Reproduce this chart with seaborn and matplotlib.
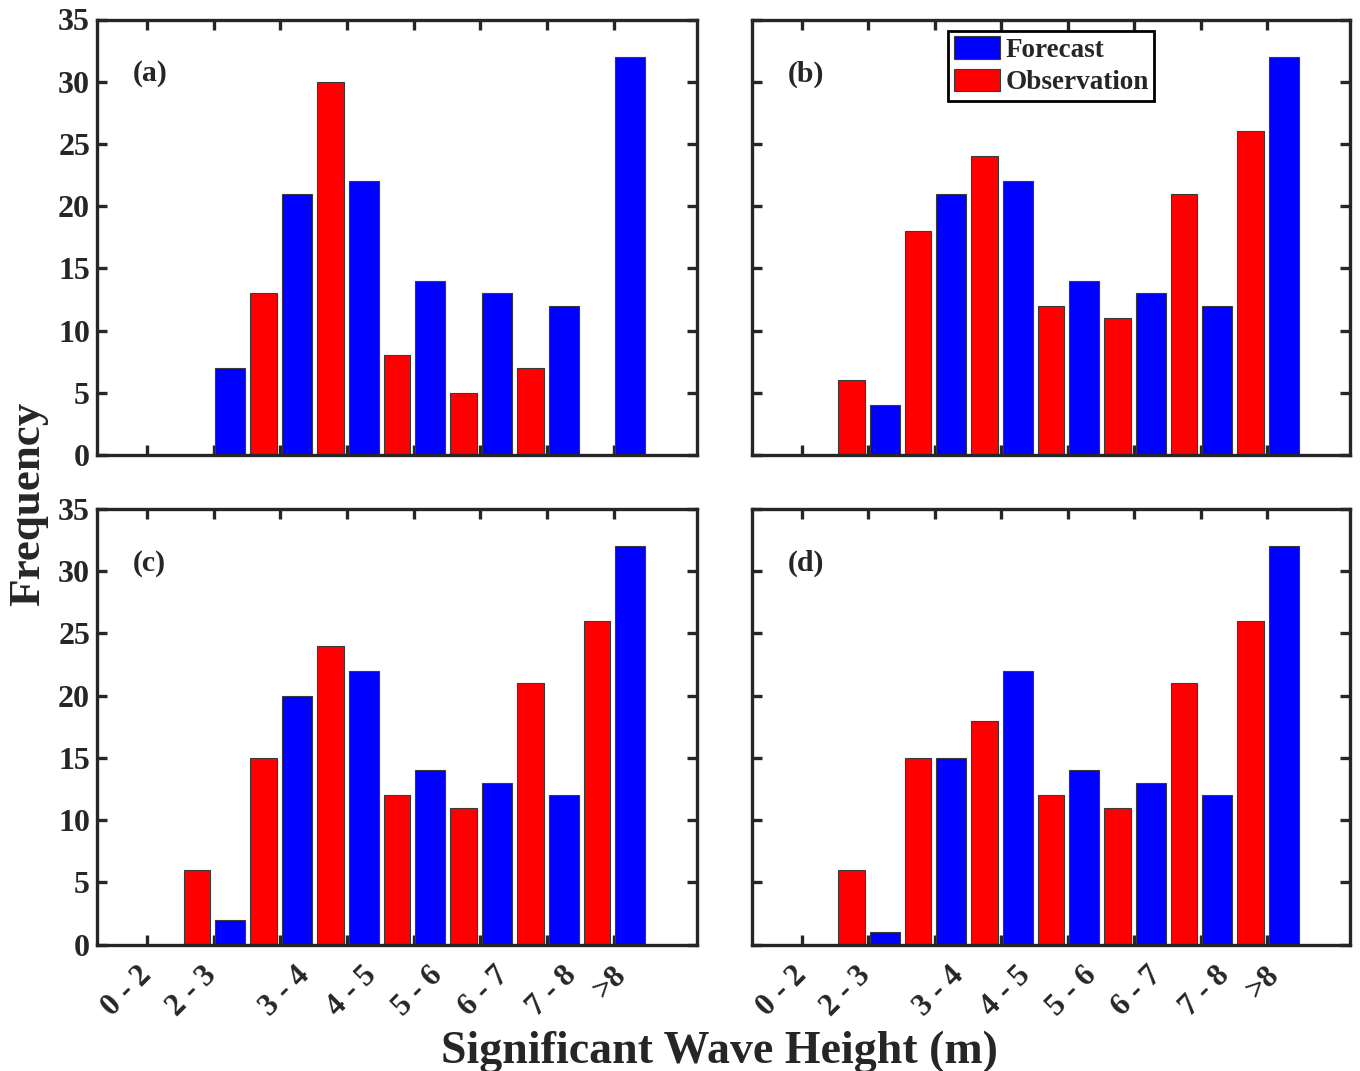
import numpy as np
import pandas as pd
import matplotlib
matplotlib.use("Agg")
import matplotlib.pyplot as plt
import seaborn as sns
from matplotlib.patches import Patch

# Wave-height bins and panel tags
bins = ["0 - 2", "2 - 3", "3 - 4", "4 - 5", "5 - 6", "6 - 7", "7 - 8", ">8"]
panel_tags = ["(a)", "(b)", "(c)", "(d)"]

# Frequency per bin for each panel
forecast_a = [0, 7, 21, 22, 14, 13, 12, 32]
observation_a = [0, 0, 13, 30, 8, 5, 7, 0]
forecast_b = [0, 4, 21, 22, 14, 13, 12, 32]
observation_b = [0, 6, 18, 24, 12, 11, 21, 26]
forecast_c = [0, 2, 20, 22, 14, 13, 12, 32]
observation_c = [0, 6, 15, 24, 12, 11, 21, 26]
forecast_d = [0, 1, 15, 22, 14, 13, 12, 32]
observation_d = [0, 6, 15, 18, 12, 11, 21, 26]

series = [
    (forecast_a, observation_a),
    (forecast_b, observation_b),
    (forecast_c, observation_c),
    (forecast_d, observation_d),
]

BLUE = "#0000FF"
RED = "#FF0000"
EDGE = "#3a3a3a"
AXC = "#262626"

sns.set_style("ticks")
plt.rcParams["font.family"] = ["Liberation Serif", "DejaVu Serif"]
plt.rcParams["font.weight"] = "bold"
plt.rcParams["axes.labelweight"] = "bold"
plt.rcParams["axes.linewidth"] = 2.4

W, H = 1360, 1071
fig = plt.figure(figsize=(W / 100, H / 100), dpi=100)


def px_axes(left, top, right, bottom):
    return fig.add_axes([left / W, 1 - bottom / H, (right - left) / W, (bottom - top) / H])


boxes = [(97, 19.5, 697, 455), (752, 19.5, 1350, 455),
         (97, 509, 697, 944.5), (752, 509, 1350, 944.5)]

# tick marks sit between slots; rotated labels are anchored a bit off them
mark_x = np.arange(len(bins)) + 0.75
label_x = [0.60, 1.57, 2.97, 3.97, 4.97, 5.95, 6.97, 7.72]

slot = np.arange(1, len(bins) + 1)

for i, (box, (fc, ob), tag) in enumerate(zip(boxes, series, panel_tags)):
    ax = px_axes(*box)
    odf = pd.DataFrame({"x": slot - 0.5, "freq": ob})
    fdf = pd.DataFrame({"x": slot.astype(float), "freq": fc})
    sns.barplot(data=odf, x="x", y="freq", native_scale=True, width=0.40,
                color=RED, saturation=1, edgecolor=EDGE, linewidth=0.8,
                errorbar=None, ax=ax)
    sns.barplot(data=fdf, x="x", y="freq", native_scale=True, width=0.45,
                color=BLUE, saturation=1, edgecolor=EDGE, linewidth=0.8,
                errorbar=None, ax=ax)
    if ax.get_legend() is not None:
        ax.get_legend().remove()

    ax.set_xlim(0, 9)
    ax.set_ylim(0, 35)
    ax.set_xlabel("")
    ax.set_ylabel("")
    ax.set_yticks(np.arange(0, 36, 5))
    ax.set_xticks(mark_x, minor=True)
    ax.set_xticks(label_x)
    bottom_row = i >= 2
    ax.set_xticklabels(bins if bottom_row else [""] * len(bins))
    plt.setp(ax.get_xticklabels(), rotation=45, ha="right", va="top",
             rotation_mode="anchor", fontsize=22.5, fontweight="bold")
    ax.tick_params(axis="x", which="major", length=0, pad=12)
    ax.tick_params(axis="x", which="minor", direction="in", length=7, width=2.4,
                   top=True, bottom=True, color=AXC)
    ax.tick_params(axis="y", which="major", direction="in", length=7, width=2.4,
                   left=True, right=True, color=AXC, labelsize=23, pad=5,
                   labelleft=(i % 2 == 0))
    for lab in ax.get_yticklabels():
        lab.set_fontweight("bold")
    for sp in ax.spines.values():
        sp.set_visible(True)
        sp.set_linewidth(2.4)
        sp.set_color(AXC)
    ax.set_facecolor("white")

    ax.text(0.06, 0.875, tag, transform=ax.transAxes, fontsize=21.5,
            fontweight="bold", ha="left", va="center")

    if i == 1:
        handles = [Patch(facecolor=BLUE, edgecolor=EDGE, linewidth=0.8, label="Forecast"),
                   Patch(facecolor=RED, edgecolor=EDGE, linewidth=0.8, label="Observation")]
        leg = ax.legend(handles=handles, loc="upper left", bbox_to_anchor=(0.328, 0.974),
                        borderaxespad=0, fancybox=False, framealpha=1,
                        edgecolor="black", prop={"size": 19.5, "weight": "bold"},
                        borderpad=0.2, labelspacing=0.22, handlelength=1.72,
                        handleheight=0.9, handletextpad=0.2)
        leg.get_frame().set_linewidth(2.0)

fig.text(28 / W, 1 - 504 / H, "Frequency", rotation=90, fontsize=32.5,
         fontweight="bold", ha="center", va="center")
fig.text(719 / W, 1 - 1063 / H, "Significant Wave Height (m)", fontsize=33,
         fontweight="bold", ha="center", va="baseline")

fig.savefig("out.png", dpi=100, facecolor="white")
